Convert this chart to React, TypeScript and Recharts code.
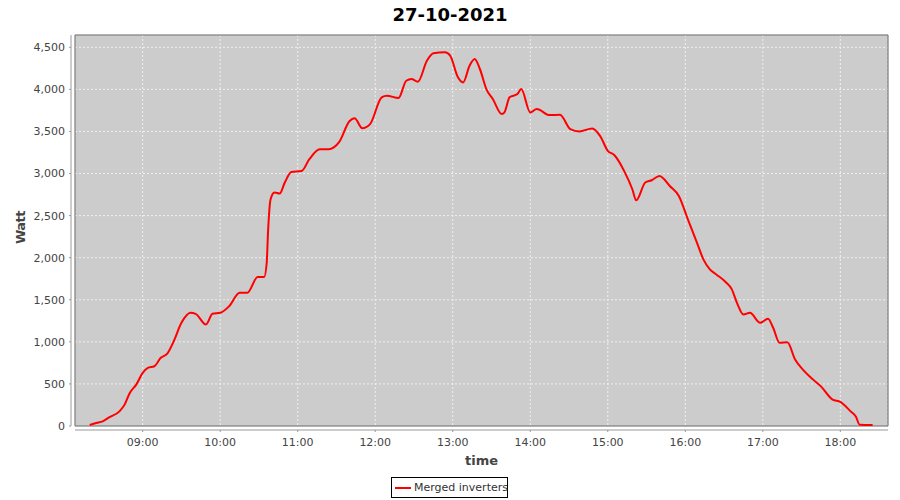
import React from 'react';
import { LineChart, Line, XAxis, YAxis, CartesianGrid, ReferenceArea } from 'recharts';

// readings of the merged inverters, 27-10-2021
const times = [
    '08:19', '08:24', '08:29', '08:34', '08:42', '08:46', '08:50', '08:55', '09:00', '09:04',
    '09:09', '09:14', '09:19', '09:24', '09:30', '09:37', '09:41', '09:49', '09:54', '10:00',
    '10:07', '10:15', '10:21', '10:29', '10:34', '10:36', '10:37', '10:39', '10:42', '10:46',
    '10:50', '10:55', '11:03', '11:09', '11:17', '11:24', '11:32', '11:40', '11:44', '11:50',
    '11:56', '12:05', '12:09', '12:18', '12:24', '12:28', '12:33', '12:40', '12:45', '12:54',
    '12:58', '13:04', '13:08', '13:13', '13:17', '13:21', '13:26', '13:31', '13:38', '13:40',
    '13:44', '13:50', '13:53', '14:00', '14:05', '14:15', '14:23', '14:31', '14:38', '14:48',
    '14:54', '15:00', '15:05', '15:13', '15:19', '15:22', '15:29', '15:34', '15:40', '15:48',
    '15:55', '16:02', '16:09', '16:14', '16:19', '16:24', '16:31', '16:36', '16:40', '16:45',
    '16:50', '16:58', '17:04', '17:08', '17:13', '17:19', '17:25', '17:31', '17:39', '17:45',
    '17:54', '18:00', '18:08', '18:12', '18:15', '18:25',
];

const watts = [
    12, 36, 55, 102, 174, 254, 393, 492, 631, 690,
    710, 810, 860, 1007, 1226, 1345, 1333, 1206, 1333, 1345,
    1424, 1583, 1583, 1769, 1769, 1940, 2298, 2694, 2774, 2762,
    2893, 3019, 3031, 3170, 3289, 3289, 3372, 3621, 3657, 3538,
    3587, 3905, 3924, 3897, 4102, 4122, 4090, 4340, 4428, 4440,
    4400, 4143, 4083, 4281, 4361, 4242, 4004, 3885, 3706, 3726,
    3905, 3944, 4004, 3726, 3766, 3694, 3698, 3527, 3500, 3536,
    3448, 3270, 3220, 3020, 2813, 2682, 2893, 2920, 2971, 2852,
    2733, 2456, 2178, 1980, 1861, 1801, 1714, 1623, 1464, 1325,
    1345, 1226, 1274, 1167, 988, 995, 789, 670, 551, 471,
    313, 286, 174, 114, 15, 12,
];

const hourTicks = ['09:00', '10:00', '11:00', '12:00', '13:00', '14:00', '15:00', '16:00', '17:00', '18:00'];
const wattTicks = [0, 500, 1000, 1500, 2000, 2500, 3000, 3500, 4000, 4500];

const X_MIN = 487.6;
const X_MAX = 1116.9;
const Y_MAX = 4646;

const toMinutes = (s: string) => {
    const [h, m] = s.split(':').map(Number);
    return h * 60 + m;
};

const fmtTime = (v: number) => {
    const h = Math.floor(v / 60);
    const m = Math.round(v % 60);
    return `${String(h).padStart(2, '0')}:${String(m).padStart(2, '0')}`;
};

const data = times.map((t, i) => ({ t: toMinutes(t), watt: watts[i] }));

const FONT = '"DejaVu Sans", sans-serif';

const YTitle = ({ viewBox }: any) => {
    const cx = viewBox.x + 21;
    const cy = viewBox.y + viewBox.height / 2 - 3;
    return (
        <text x={cx} y={cy} transform={`rotate(-90 ${cx} ${cy})`} textAnchor="middle" dominantBaseline="middle"
            fontFamily={FONT} fontSize={13} fontWeight="bold" fill="#444" letterSpacing={-0.5}>
            Watt
        </text>
    );
};

const XTitle = ({ viewBox }: any) => (
    <text x={viewBox.x + viewBox.width / 2} y={viewBox.y + 39} textAnchor="middle"
        fontFamily={FONT} fontSize={13} fontWeight="bold" fill="#444">
        time
    </text>
);

export default function App() {
    return (
        <div style={{ position: 'absolute', left: 0, top: 0, width: 900, height: 500, background: '#fff', fontFamily: FONT }}>
            <div style={{ position: 'absolute', top: 4, left: 0, width: 900, textAlign: 'center', fontSize: 18, fontWeight: 'bold', color: '#000' }}>
                27-10-2021
            </div>
            <LineChart width={900} height={500} data={data} margin={{ top: 35, right: 12, bottom: 0, left: 0 }}>
                <CartesianGrid fill="#cccccc" stroke="#f0f0f0" strokeDasharray="2 2" />
                <ReferenceArea x1={X_MIN} x2={X_MAX} y1={0} y2={Y_MAX} fill="none" stroke="#666" strokeWidth={1} ifOverflow="visible" />
                <XAxis
                    type="number"
                    dataKey="t"
                    domain={[X_MIN, X_MAX]}
                    ticks={hourTicks.map(toMinutes)}
                    tickFormatter={fmtTime}
                    height={74}
                    tickSize={2}
                    tickMargin={10}
                    axisLine={{ stroke: '#999', transform: 'translate(0,4)' }}
                    tickLine={{ stroke: '#999', transform: 'translate(0,4)' }}
                    tick={{ fill: '#444', fontSize: 11, fontFamily: FONT }}
                    label={<XTitle />}
                />
                <YAxis
                    type="number"
                    domain={[0, Y_MAX]}
                    ticks={wattTicks}
                    tickFormatter={(v: number) => v.toLocaleString('en-US')}
                    width={75}
                    tickSize={2}
                    tickMargin={8}
                    axisLine={{ stroke: '#999', transform: 'translate(-4,0)' }}
                    tickLine={{ stroke: '#999', transform: 'translate(-4,0)' }}
                    tick={{ fill: '#444', fontSize: 11, fontFamily: FONT }}
                    label={<YTitle />}
                />
                <Line
                    type="monotone"
                    dataKey="watt"
                    stroke="#ff0000"
                    strokeWidth={2}
                    dot={false}
                    isAnimationActive={false}
                />
            </LineChart>
            <div style={{ position: 'absolute', left: 391, top: 477, width: 115, height: 19, border: '1px solid #000', display: 'flex', alignItems: 'center', fontSize: 11, color: '#333', whiteSpace: 'nowrap', boxSizing: 'content-box' }}>
                <svg width={18} height={10} style={{ marginLeft: 2, marginRight: 2, flexShrink: 0 }}>
                    <line x1={1} y1={5} x2={17} y2={5} stroke="#ff0000" strokeWidth={2} />
                </svg>
                Merged inverters
            </div>
        </div>
    );
}
